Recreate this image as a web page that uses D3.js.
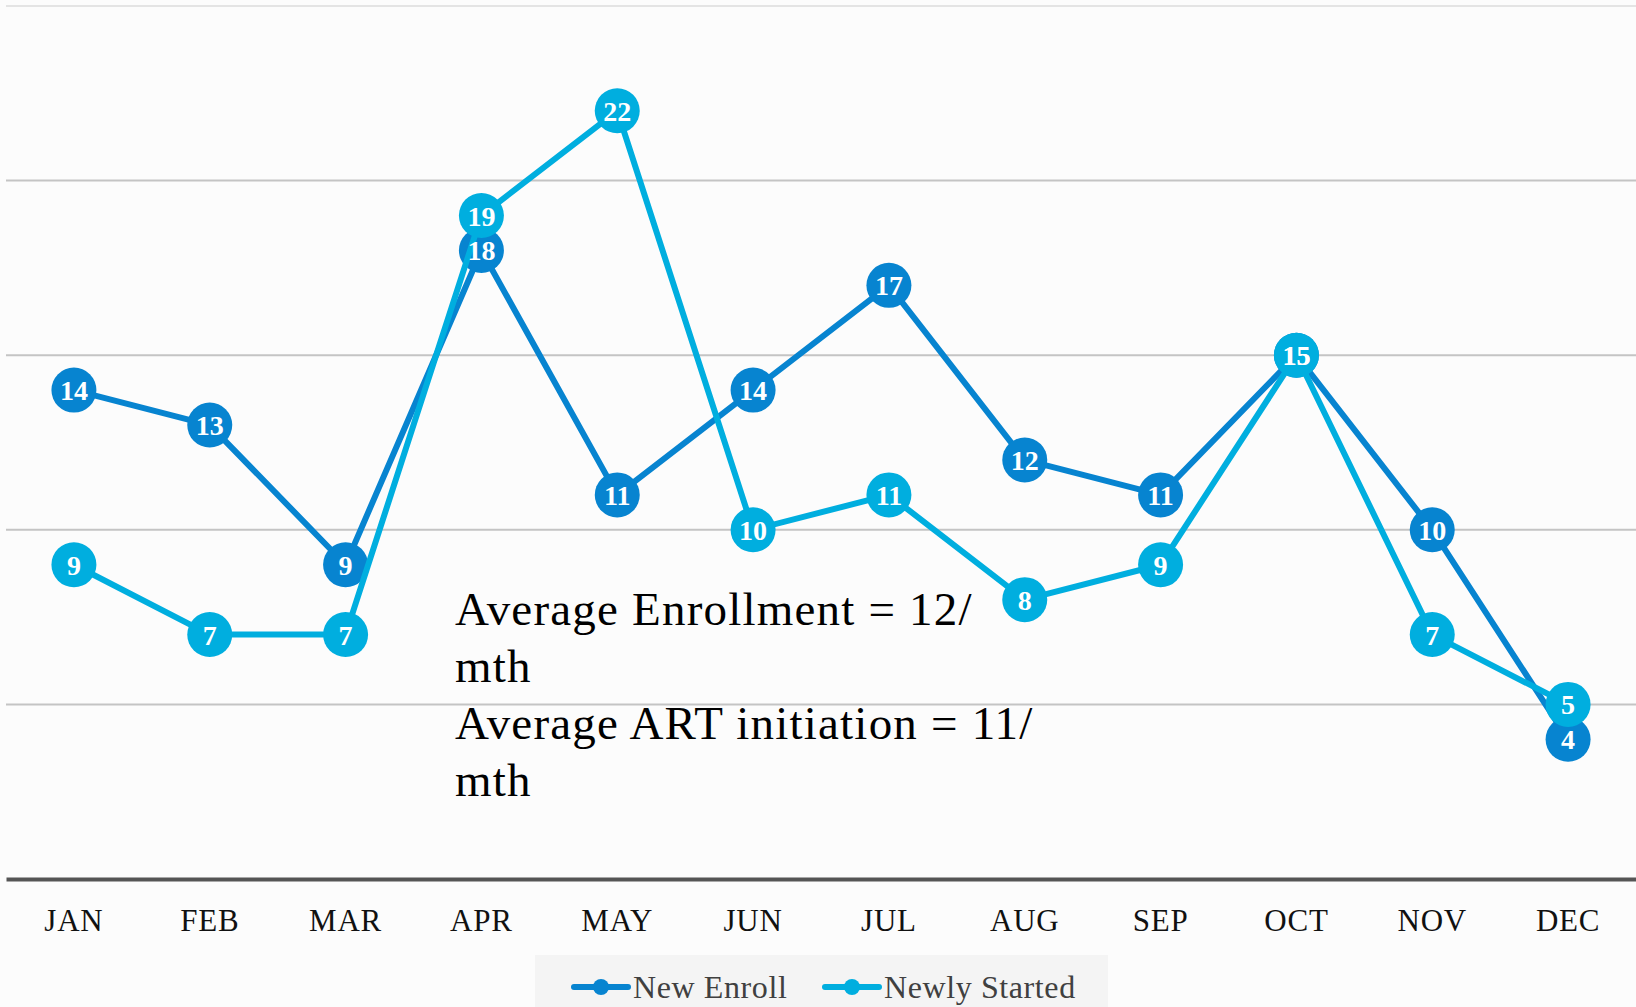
<!DOCTYPE html>
<html>
<head>
<meta charset="utf-8">
<script src="https://cdn.jsdelivr.net/npm/d3@7"></script>
<style>
  html, body { margin: 0; padding: 0; background: #fcfcfc; }
  svg { display: block; }
</style>
</head>
<body>
<div id="chart"></div>
<script>
const months = ['JAN', 'FEB', 'MAR', 'APR', 'MAY', 'JUN', 'JUL', 'AUG', 'SEP', 'OCT', 'NOV', 'DEC'];
const newEnroll = [14, 13, 9, 18, 11, 14, 17, 12, 11, 15, 10, 4];
const newlyStarted = [9, 7, 7, 19, 22, 10, 11, 8, 9, 15, 7, 5];
const yTicks = [0, 5, 10, 15, 20, 25];
const seriesNames = ['New Enroll', 'Newly Started'];
const notes = ['Average Enrollment = 12/', 'mth', 'Average ART initiation = 11/', 'mth'];

const W = 1636, H = 1007;
const margin = { top: 6, right: 0, bottom: 128, left: 6 };
const font = "'Liberation Serif', 'DejaVu Serif', serif";
const colors = ['#0784d0', '#00aedf'];

const svg = d3.select('#chart').append('svg').attr('width', W).attr('height', H);

const x = d3.scaleBand().domain(months).range([margin.left, W - margin.right]);
const y = d3.scaleLinear().domain([0, 25]).range([H - margin.bottom, margin.top]);

// grid lines
svg.selectAll('.grid')
  .data(yTicks.filter(d => d > 0))
  .join('line')
  .attr('x1', margin.left)
  .attr('x2', W)
  .attr('y1', d => y(d))
  .attr('y2', d => y(d))
  .attr('stroke', d => d === 25 ? '#e4e4e4' : '#c4c4c4')
  .attr('stroke-width', 2);

// x axis
const xAxis = svg.append('g')
  .attr('transform', `translate(0,${y(0)})`)
  .call(d3.axisBottom(x).tickSize(0).tickPadding(30));
xAxis.select('.domain').attr('stroke', '#555').attr('stroke-width', 4);
xAxis.selectAll('text')
  .attr('font-family', font)
  .attr('font-size', 31)
  .attr('letter-spacing', 0.8)
  .attr('fill', '#111');

// annotation text
svg.append('g')
  .selectAll('text')
  .data(notes)
  .join('text')
  .attr('x', 455)
  .attr('y', (d, i) => 625 + i * 57)
  .attr('font-family', font)
  .attr('font-size', 47)
  .attr('letter-spacing', 1.2)
  .attr('fill', '#000')
  .text(d => d);

const series = [newEnroll, newlyStarted];
const line = d3.line()
  .x((d, i) => x(months[i]) + x.bandwidth() / 2)
  .y(d => y(d));

series.forEach((vals, s) => {
  svg.append('path')
    .datum(vals)
    .attr('fill', 'none')
    .attr('stroke', colors[s])
    .attr('stroke-width', 6)
    .attr('stroke-linejoin', 'round')
    .attr('d', line);

  svg.append('g')
    .selectAll('circle')
    .data(vals)
    .join('circle')
    .attr('cx', (d, i) => x(months[i]) + x.bandwidth() / 2)
    .attr('cy', d => y(d))
    .attr('r', 22.5)
    .attr('fill', colors[s]);
});

// value labels on top
series.forEach((vals, s) => {
  svg.append('g')
    .selectAll('text')
    .data(vals)
    .join('text')
    .attr('x', (d, i) => x(months[i]) + x.bandwidth() / 2)
    .attr('y', d => y(d) + 10)
    .attr('text-anchor', 'middle')
    .attr('font-family', font)
    .attr('font-weight', 'bold')
    .attr('font-size', 28)
    .attr('fill', '#fff')
    .text(d => d);
});

// legend
const legend = svg.append('g');
legend.append('rect')
  .attr('x', 535).attr('y', 955)
  .attr('width', 573).attr('height', H - 955)
  .attr('fill', '#f4f4f4');

const legendX = [574, 825];
seriesNames.forEach((name, s) => {
  const g = legend.append('g').attr('transform', `translate(${legendX[s]},987)`);
  g.append('line')
    .attr('x1', 0).attr('x2', 54)
    .attr('stroke', colors[s]).attr('stroke-width', 6)
    .attr('stroke-linecap', 'round');
  g.append('circle').attr('cx', 27).attr('r', 8).attr('fill', colors[s]);
  g.append('text')
    .attr('x', 59).attr('y', 11)
    .attr('font-family', font)
    .attr('font-size', 32)
    .attr('letter-spacing', 0.6)
    .attr('fill', '#404040')
    .text(name);
});
</script>
</body>
</html>
